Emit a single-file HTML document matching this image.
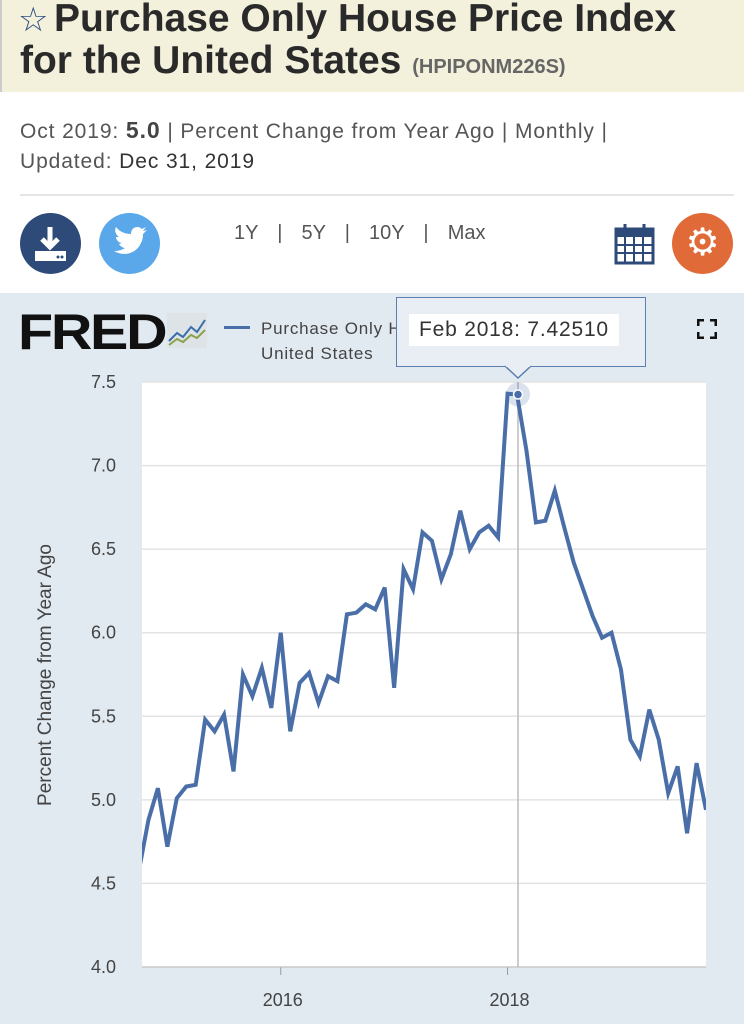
<!DOCTYPE html>
<html><head><meta charset="utf-8"><style>
body{margin:0;width:744px;height:1024px;overflow:hidden;background:#fff;font-family:"Liberation Sans","DejaVu Sans",sans-serif;position:relative}
.abs{position:absolute}
</style></head><body>
<div class="abs" style="left:0;top:0;width:744px;height:92px;background:#f3f1dc;border-left:2px solid #ccc;"></div>
<div class="abs" style="left:18px;top:0px;font-size:34px;color:#2f4f86;">☆</div>
<div class="abs" style="left:20px;top:-2px;font-size:39px;font-weight:bold;color:#2a2a2a;line-height:42px;width:730px;white-space:nowrap;"><span style="padding-left:34px">Purchase Only House Price Index</span><br>for the United States <span style="font-size:20px;color:#666;">(HPIPONM226S)</span></div>
<div class="abs" style="left:20px;top:115px;font-size:21px;color:#555;line-height:30px;letter-spacing:0.9px;white-space:nowrap;">Oct 2019: <b style="font-size:23px;color:#444">5.0</b> | Percent Change from Year Ago | Monthly |<br>Updated: <span style="color:#333">Dec 31, 2019</span></div>
<div class="abs" style="left:20px;top:194px;width:714px;height:2px;background:#e5e5e5"></div>
<div class="abs" style="left:20px;top:213px;width:61px;height:61px;border-radius:50%;background:#2d4a78;">
<svg width="61" height="61"><path d="M30 14v20M22 26l8 8 8-8" stroke="#fff" stroke-width="5" fill="none"/><rect x="15" y="38" width="31" height="10" fill="#fff"/><circle cx="38" cy="44" r="1.5" fill="#2d4a78"/><circle cx="42" cy="44" r="1.5" fill="#2d4a78"/></svg></div>
<div class="abs" style="left:99px;top:213px;width:61px;height:61px;border-radius:50%;background:#5aa7ea;">
<svg width="61" height="61"><path d="M15 38c8 5 20 4 26-6 3-5 3-9 3-11l4-4-4 1 3-4-4 2c-4-4-11-2-11 5-7 0-12-3-15-7-2 4 0 8 3 10h-3c0 3 3 6 6 6l-3 1c1 2 4 4 6 4-3 2-7 3-11 3z" fill="#fff"/></svg></div>
<div class="abs" style="left:234px;top:222px;font-size:20px;color:#555;word-spacing:4px;">1Y &nbsp;| &nbsp;5Y &nbsp;| &nbsp;10Y &nbsp;| &nbsp;Max</div>
<div class="abs" style="left:614px;top:222px;">
<svg width="42" height="44"><rect x="2" y="7" width="37" height="34" fill="none" stroke="#2d4a78" stroke-width="3"/><rect x="2" y="7" width="37" height="8" fill="#2d4a78"/><path d="M11 2v9M30 2v9" stroke="#2d4a78" stroke-width="3"/><path d="M2 23h37M2 31h37M11 15v26M20 15v26M29 15v26" stroke="#2d4a78" stroke-width="2"/></svg></div>
<div class="abs" style="left:672px;top:213px;width:61px;height:61px;border-radius:50%;background:#e06a38;color:#fff;font-size:38px;text-align:center;line-height:61px;">⚙</div>
<div class="abs" style="left:0;top:293px;width:744px;height:731px;background:#e1e9f1;"></div>
<div class="abs" style="left:18px;top:303px;font-size:50px;font-weight:900;color:#111;letter-spacing:-2px;transform:scaleX(1.15);transform-origin:left;">FRED</div>
<svg class="abs" style="left:167px;top:313px" width="40" height="35"><rect width="40" height="35" fill="#dde3e6"/><path d="M2 28l8-8 6 4 8-10 6 5 8-12" stroke="#3a6ea8" stroke-width="2" fill="none"/><path d="M2 32l8-6 6 3 8-7 6 3 8-8" stroke="#8aa24c" stroke-width="2" fill="none"/></svg>
<div class="abs" style="left:224px;top:326px;width:26px;height:3px;background:#4a6fa8"></div>
<div class="abs" style="left:261px;top:316px;font-size:17px;color:#444;line-height:25px;letter-spacing:0.8px">Purchase Only House Price Index for the<br>United States</div>
<div class="abs" style="left:697px;top:319px;width:20px;height:20px;">
<svg width="20" height="20"><path d="M1 7V1h6M13 1h6v6M19 13v6h-6M7 19H1v-6" stroke="#111" stroke-width="3" fill="none"/></svg></div>
<svg class="abs" style="left:0;top:0" width="744" height="1024" id="chart"></svg>
<div class="abs" style="left:396px;top:297px;width:250px;height:70px;background:#e8eef4;border:1.5px solid #5a7fb0;box-sizing:border-box;">
<div style="position:absolute;left:12px;top:16px;background:#fff;padding:4px 10px;font-size:21px;color:#333;letter-spacing:0.8px;white-space:nowrap;">Feb 2018: 7.42510</div></div>
<svg class="abs" style="left:505px;top:365px" width="26" height="14"><path d="M0 1L13 13L26 1" fill="#e8eef4" stroke="#5a7fb0" stroke-width="1.5"/><rect x="1" y="0" width="24" height="2" fill="#e8eef4"/></svg>
<script>
const yTicks=[4.0,4.5,5.0,5.5,6.0,6.5,7.0,7.5];
const yTickLabels=["4.0","4.5","5.0","5.5","6.0","6.5","7.0","7.5"];
const xTickMonths=[15,39];
const xTickLabels=["2016","2018"];
const values=[4.58,4.88,5.07,4.72,5.01,5.08,5.09,5.48,5.41,5.51,5.17,5.75,5.62,5.79,5.55,6.00,5.41,5.70,5.76,5.58,5.74,5.71,6.11,6.12,6.17,6.14,6.27,5.67,6.38,6.26,6.60,6.55,6.32,6.47,6.73,6.50,6.60,6.64,6.57,7.43,7.4251,7.09,6.66,6.67,6.85,6.63,6.42,6.26,6.10,5.97,6.00,5.78,5.36,5.26,5.54,5.36,5.04,5.20,4.80,5.22,4.94];
const highlightIndex=40;
const NS="http://www.w3.org/2000/svg";
const svg=document.getElementById('chart');
const L=142,R=706,T=382,B=967;
const x0=139,x1=706;
function xs(i){return x0+(x1-x0)*i/60;}
function ys(v){return B-(v-4.0)/(7.5-4.0)*(B-T);}
function mk(t,a){const e=document.createElementNS(NS,t);for(const k in a)e.setAttribute(k,a[k]);svg.appendChild(e);return e;}
let e=mk('rect',{x:L,y:T,width:R-L,height:B-T,fill:'#fff'});


yTicks.forEach((v,i)=>{
 const g=mk('line',{x1:L,x2:R,y1:ys(v),y2:ys(v),stroke:'#e3e3e3','stroke-width':1.5});
 
 
 const t=mk('text',{x:116,y:ys(v)+6,'text-anchor':'end','font-size':18,fill:'#444','font-family':'Liberation Sans, sans-serif'});
 t.textContent=yTickLabels[i];
 
 
});
xTickMonths.forEach((m,i)=>{
 const l=mk('line',{x1:xs(m),x2:xs(m),y1:B,y2:B+8,stroke:'#999','stroke-width':1});
 
 
 const t=mk('text',{x:xs(m)+2,y:B+39,'text-anchor':'middle','font-size':18,fill:'#444','font-family':'Liberation Sans, sans-serif'});
 t.textContent=xTickLabels[i];
 
 
});
const ax=mk('line',{x1:L,x2:R,y1:B,y2:B,stroke:'#bbb','stroke-width':1});


const yt=mk('text',{x:0,y:0,transform:'translate(51,675) rotate(-90)','text-anchor':'middle','font-size':19,fill:'#444','font-family':'Liberation Sans, sans-serif'});
yt.textContent='Percent Change from Year Ago';


const cl=mk('line',{x1:xs(highlightIndex)+1,x2:xs(highlightIndex)+1,y1:T,y2:B,stroke:'#bbb','stroke-width':1.5});


const clip=mk('clipPath',{id:'c'});
const cp=document.createElementNS(NS,'rect');
cp.setAttribute('x',L);cp.setAttribute('y',T-20);cp.setAttribute('width',R-L);cp.setAttribute('height',B-T+40);
clip.appendChild(cp);
const pts=values.map((v,i)=>xs(i)+','+ys(v)).join(' ');
const line=mk('polyline',{points:pts,fill:'none',stroke:'#4a6fa8','stroke-width':4,'stroke-linejoin':'miter','clip-path':'url(#c)'});


const halo=mk('circle',{cx:xs(highlightIndex)+1,cy:ys(values[highlightIndex]),r:12,fill:'#4a6fa8','fill-opacity':0.2});


const dot=mk('circle',{cx:xs(highlightIndex)+1,cy:ys(values[highlightIndex]),r:4.5,fill:'#4a6fa8',stroke:'#fff','stroke-width':1.5});


</script>
</body></html>
